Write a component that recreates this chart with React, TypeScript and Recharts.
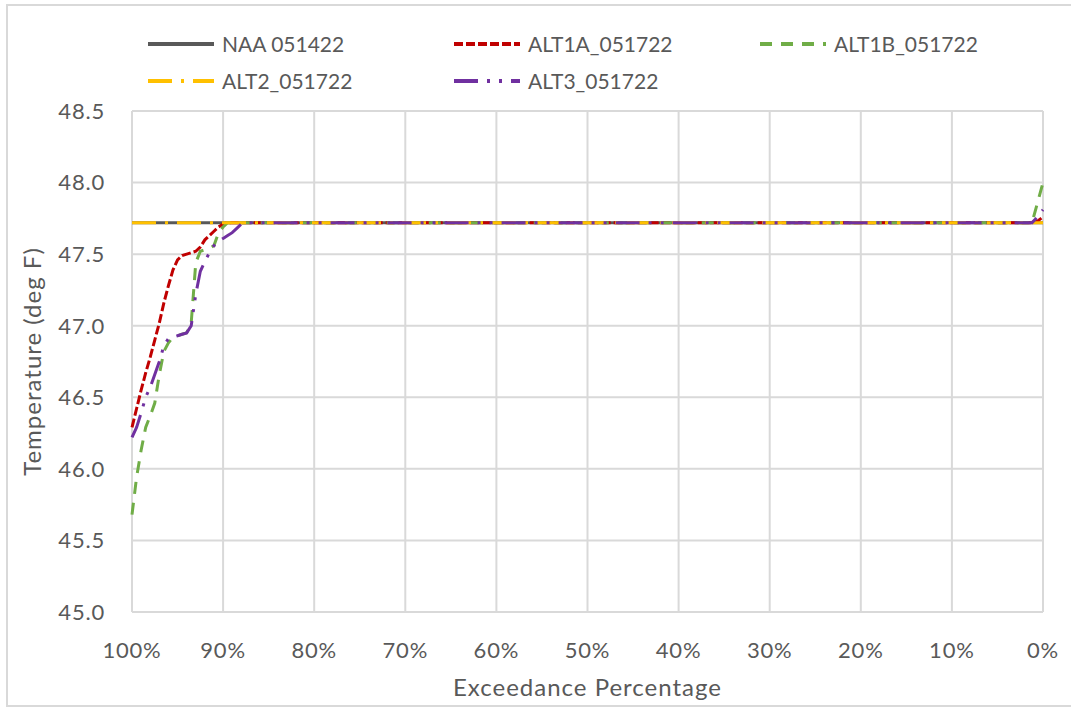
import React from 'react';
import { LineChart, Line, XAxis, YAxis, CartesianGrid } from 'recharts';

// exceedance percentage (x), shared by all series
const exceedance = [
  100, 99.5, 99, 98.5, 98, 97.5, 97, 96.5, 96, 95.5,
  95, 94.5, 94, 93.5, 93, 92.5, 92, 91.5, 91, 90.5,
  90, 89.5, 89, 88.5, 88, 87.5, 87, 85, 80, 70,
  60, 50, 40, 30, 20, 10, 5, 1.2, 0.6, 0,
];

const naa051422 = [
  47.72, 47.72, 47.72, 47.72, 47.72, 47.72, 47.72, 47.72, 47.72, 47.72,
  47.72, 47.72, 47.72, 47.72, 47.72, 47.72, 47.72, 47.72, 47.72, 47.72,
  47.72, 47.72, 47.72, 47.72, 47.72, 47.72, 47.72, 47.72, 47.72, 47.72,
  47.72, 47.72, 47.72, 47.72, 47.72, 47.72, 47.72, 47.72, 47.72, 47.72,
];

const alt1a051722 = [
  46.29, 46.42, 46.55, 46.67, 46.78, 46.9, 47.02, 47.16, 47.28, 47.39,
  47.46, 47.49, 47.5, 47.51, 47.52, 47.55, 47.6, 47.63, 47.66, 47.69,
  47.71, 47.72, 47.72, 47.72, 47.72, 47.72, 47.72, 47.72, 47.72, 47.72,
  47.72, 47.72, 47.72, 47.72, 47.72, 47.72, 47.72, 47.72, 47.73, 47.76,
];

const alt1b051722 = [
  45.68, 45.94, 46.13, 46.29, 46.37, 46.46, 46.66, 46.82, 46.88, 46.92,
  46.93, 46.94, 46.95, 47.02, 47.44, 47.52, 47.53, 47.54, 47.56, 47.65,
  47.69, 47.72, 47.72, 47.72, 47.72, 47.72, 47.72, 47.72, 47.72, 47.72,
  47.72, 47.72, 47.72, 47.72, 47.72, 47.72, 47.72, 47.72, 47.86, 48.0,
];

const alt2051722 = [
  47.72, 47.72, 47.72, 47.72, 47.72, 47.72, 47.72, 47.72, 47.72, 47.72,
  47.72, 47.72, 47.72, 47.72, 47.72, 47.72, 47.72, 47.72, 47.72, 47.72,
  47.72, 47.72, 47.72, 47.72, 47.72, 47.72, 47.72, 47.72, 47.72, 47.72,
  47.72, 47.72, 47.72, 47.72, 47.72, 47.72, 47.72, 47.72, 47.72, 47.72,
];

const alt3051722 = [
  46.22, 46.29, 46.39, 46.5, 46.57, 46.66, 46.75, 46.86, 46.91, 46.92,
  46.93, 46.94, 46.95, 47.0, 47.22, 47.38, 47.45, 47.51, 47.56, 47.59,
  47.61, 47.63, 47.65, 47.68, 47.71, 47.72, 47.72, 47.72, 47.72, 47.72,
  47.72, 47.72, 47.72, 47.72, 47.72, 47.72, 47.72, 47.72, 47.76, 47.81,
];

const xTicks = [100, 90, 80, 70, 60, 50, 40, 30, 20, 10, 0];
const yTicks = [45.0, 45.5, 46.0, 46.5, 47.0, 47.5, 48.0, 48.5];

const series = [
  { key: 'naa', name: 'NAA 051422', color: '#595959', dash: undefined as string | undefined },
  { key: 'alt1a', name: 'ALT1A_051722', color: '#C00000', dash: '9 3' },
  { key: 'alt1b', name: 'ALT1B_051722', color: '#70AD47', dash: '12 9' },
  { key: 'alt2', name: 'ALT2_051722', color: '#FFC000', dash: '24 9 3 9' },
  { key: 'alt3', name: 'ALT3_051722', color: '#7030A0', dash: '24 9 3 9 3 9' },
];

const data = exceedance.map((x, i) => ({
  x,
  naa: naa051422[i],
  alt1a: alt1a051722[i],
  alt1b: alt1b051722[i],
  alt2: alt2051722[i],
  alt3: alt3051722[i],
}));

const FONT = 'Lato, "Open Sans", sans-serif';
const TEXT = '#595959';

const ChartLegend = () => (
  <div
    style={{
      position: 'absolute',
      left: 148,
      top: 25,
      width: 920,
      display: 'flex',
      flexWrap: 'wrap',
      fontFamily: FONT,
      fontSize: 21,
      color: TEXT,
    }}
  >
    {series.map((s) => (
      <div key={s.key} style={{ width: 306, height: 37, display: 'flex', alignItems: 'center' }}>
        <svg width={66} height={6} style={{ marginRight: 8 }}>
          <line x1={0} y1={3} x2={66} y2={3} stroke={s.color} strokeWidth={4} strokeDasharray={s.dash} />
        </svg>
        <span>{s.name}</span>
      </div>
    ))}
  </div>
);

export default function App() {
  return (
    <div
      style={{
        position: 'fixed',
        left: 0,
        top: 0,
        width: 1071,
        height: 707,
        background: '#fff',
        overflow: 'hidden',
      }}
    >
      <div
        style={{
          position: 'absolute',
          left: 6,
          top: 4,
          width: 1100,
          height: 703,
          boxSizing: 'border-box',
          border: '2px solid #d9d9d9',
        }}
      />
      <LineChart
        width={1071}
        height={707}
        data={data}
        margin={{ top: 111, right: 28, bottom: 0, left: 0 }}
        style={{ position: 'absolute', left: 0, top: 0 }}
      >
        <CartesianGrid stroke="#d9d9d9" strokeWidth={2} />
        <XAxis
          dataKey="x"
          type="number"
          domain={[0, 100]}
          reversed
          ticks={xTicks}
          tickFormatter={(v: number) => `${v}%`}
          axisLine={false}
          tickLine={false}
          tickMargin={24}
          height={95}
          tick={{ fill: TEXT, fontSize: 22, fontFamily: FONT, letterSpacing: 0.8 }}
          label={{
            value: 'Exceedance Percentage',
            position: 'center',
            dy: 28,
            fill: TEXT,
            fontSize: 24,
            fontFamily: FONT,
            letterSpacing: 1,
          }}
        />
        <YAxis
          type="number"
          domain={[45, 48.5]}
          ticks={yTicks}
          tickFormatter={(v: number) => v.toFixed(1)}
          axisLine={false}
          tickLine={false}
          tickMargin={21}
          width={132}
          tick={{ fill: TEXT, fontSize: 22, fontFamily: FONT, letterSpacing: 0.8 }}
          label={{
            value: 'Temperature (deg F)',
            angle: -90,
            position: 'center',
            dx: -34,
            fill: TEXT,
            fontSize: 24,
            fontFamily: FONT,
            letterSpacing: 1,
          }}
        />
        {series.map((s) => (
          <Line
            key={s.key}
            type="linear"
            dataKey={s.key}
            name={s.name}
            stroke={s.color}
            strokeWidth={3}
            strokeDasharray={s.dash}
            dot={false}
            activeDot={false}
            isAnimationActive={false}
          />
        ))}
      </LineChart>
      <ChartLegend />
    </div>
  );
}
